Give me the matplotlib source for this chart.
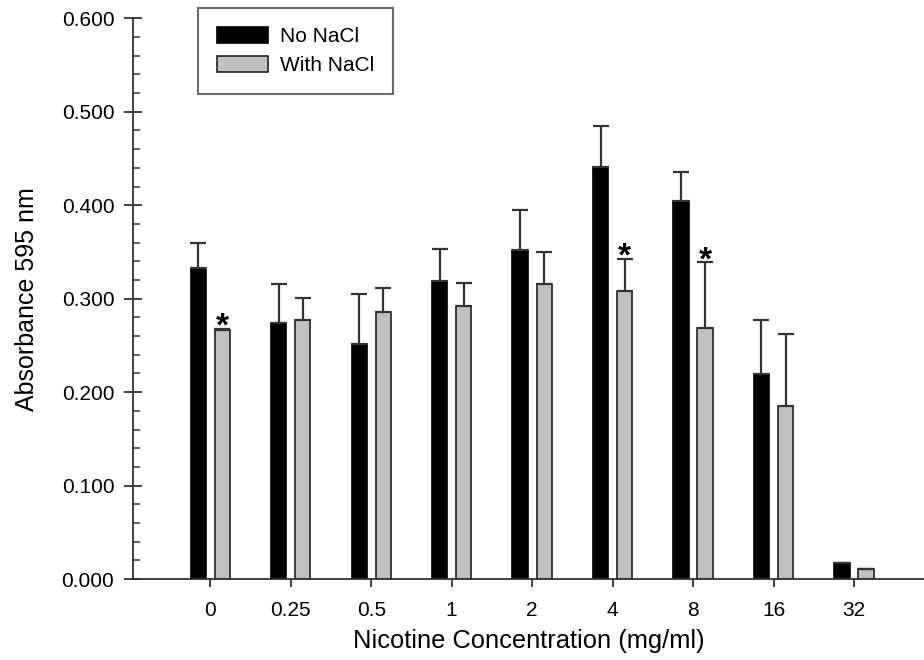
import numpy as np
import matplotlib
matplotlib.use("Agg")
import matplotlib.pyplot as plt
from matplotlib.ticker import MultipleLocator, FormatStrFormatter

plt.rcParams['font.family'] = ['Liberation Sans', 'DejaVu Sans']

# data
concentrations = ['0', '0.25', '0.5', '1', '2', '4', '8', '16', '32']
no_nacl = [0.333, 0.2735, 0.2515, 0.319, 0.352, 0.441, 0.405, 0.219, 0.017]
no_nacl_err = [0.027, 0.042, 0.054, 0.034, 0.043, 0.044, 0.031, 0.058, 0.0]
with_nacl = [0.267, 0.277, 0.286, 0.292, 0.3155, 0.308, 0.269, 0.185, 0.0105]
with_nacl_err = [0.001, 0.0235, 0.025, 0.025, 0.034, 0.035, 0.070, 0.077, 0.0]
significant = [0, 5, 6]  # indices with * above the NaCl bar

x = np.arange(len(concentrations))
w = 0.19
off = 0.15

fig = plt.figure(figsize=(9.24, 6.6), dpi=100)
ax = fig.add_axes([0.144, 0.1227, 0.856, 0.8495])

err_kw = dict(ecolor='#333333', elinewidth=1.6, capsize=6, capthick=1.6)
ax.bar(x - off, no_nacl, w, color='black', edgecolor='black', linewidth=1.2,
       yerr=[np.zeros(len(x)), no_nacl_err], error_kw=err_kw, label='No NaCl')
ax.bar(x + off, with_nacl, w, color='#c0c0c0', edgecolor='#222222', linewidth=1.2,
       yerr=[np.zeros(len(x)), with_nacl_err], error_kw=err_kw, label='With NaCl')

for i in significant:
    ax.annotate('*', (x[i] + off, with_nacl[i] + with_nacl_err[i]),
                xytext=(0, -5), textcoords='offset points',
                ha='center', va='baseline', fontsize=24, fontweight='bold')

ax.set_xlim(-0.96, 8.87)
ax.set_ylim(0, 0.6)
ax.set_xticks(x)
ax.set_xticklabels(concentrations)
ax.yaxis.set_major_locator(MultipleLocator(0.1))
ax.yaxis.set_minor_locator(MultipleLocator(0.02))
ax.yaxis.set_major_formatter(FormatStrFormatter('%.3f'))

for s in ['top', 'right']:
    ax.spines[s].set_visible(False)
for s in ['left', 'bottom']:
    ax.spines[s].set_linewidth(1.3)
    ax.spines[s].set_color('#333333')

ax.tick_params(axis='y', which='major', direction='inout', length=13, width=1.3,
               labelsize=15, colors='#333333', labelcolor='black', pad=7)
ax.tick_params(axis='y', which='minor', direction='in', length=5, width=1.1, colors='#333333')
ax.tick_params(axis='x', which='major', direction='out', length=6, width=1.3,
               labelsize=15, colors='#333333', labelcolor='black', pad=10)

ax.set_xlabel('Nicotine Concentration (mg/ml)', fontsize=18.4, labelpad=6)
ax.set_ylabel('Absorbance 595 nm', fontsize=18, labelpad=16)

leg = ax.legend(loc='upper left', bbox_to_anchor=(0.082, 1.0187), borderaxespad=0,
                fontsize=15, frameon=True, fancybox=False, edgecolor='#444444',
                handlelength=2.45, handleheight=0.8, borderpad=0.9,
                labelspacing=0.48, handletextpad=0.58)
leg.get_frame().set_linewidth(1.5)

fig.savefig('out.png', dpi=100)
